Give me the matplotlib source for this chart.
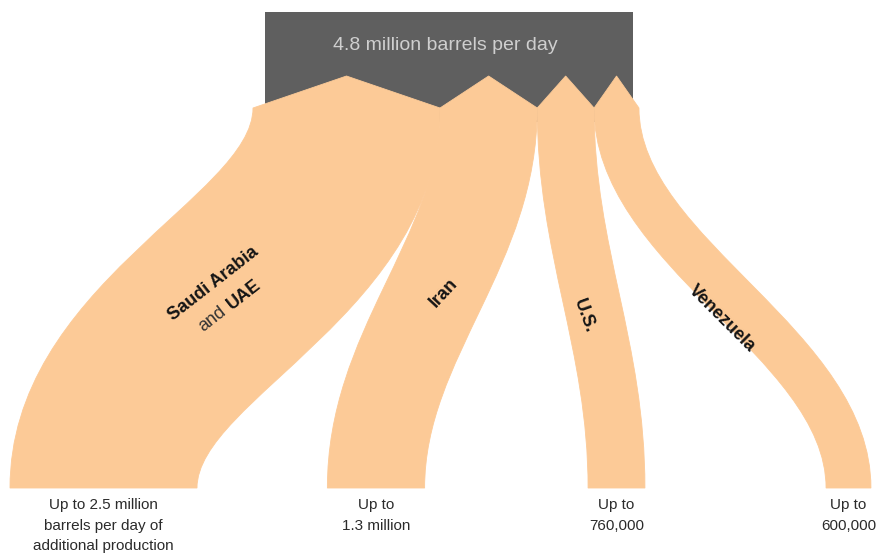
import numpy as np
import matplotlib.pyplot as plt
from matplotlib.path import Path
from matplotlib.patches import PathPatch, Rectangle

# spare capacity, million barrels per day
regions = ['Saudi Arabia', 'Iran', 'U.S.', 'Venezuela']
capacity = [2.5, 1.3, 0.76, 0.6]
total_label = '4.8 million barrels per day'
bottom_labels = [
    'Up to 2.5 million\nbarrels per day of\nadditional production',
    'Up to\n1.3 million',
    'Up to\n760,000',
    'Up to\n600,000',
]

PEACH = '#fcca97'
GREY = '#5f5f5f'

# layout (pixels, y pointing down)
PX_PER_MB = 74.8
TOP_LEFT = 253
bottom_centers = [103.5, 376, 616.5, 848.5]
Y_PEAK, Y_TOP, Y_BOT = 76, 108, 488
H = Y_BOT - Y_TOP
C = 0.38

fig = plt.figure(figsize=(8.77, 5.56), dpi=100)
ax = fig.add_axes([0, 0, 1, 1])
ax.set_xlim(0, 877)
ax.set_ylim(556, 0)
ax.axis('off')

# grey header block
ax.add_patch(Rectangle((265, 12), 368, 110, facecolor=GREY, edgecolor='none', zorder=1))
ax.text(445, 45, total_label, ha='center', va='center', fontsize=14,
        family='Liberation Sans', color='#cfcfcf', zorder=3)

widths = np.array(capacity) * PX_PER_MB
lefts = TOP_LEFT + np.concatenate([[0], np.cumsum(widths)[:-1]])

for i in range(len(capacity)):
    w = widths[i]
    L0, R0 = lefts[i], lefts[i] + w
    C0 = (L0 + R0) / 2
    L1, R1 = bottom_centers[i] - w / 2, bottom_centers[i] + w / 2
    dx = bottom_centers[i] - C0
    d = 0.0008 * w * min(1, abs(dx) / 240) * np.sign(dx)
    # the edge on the side the band bends towards swings a little earlier
    al, bl = C + d, C - d
    ar, br = C - d, C + d
    verts = [(L0, Y_TOP), (C0, Y_PEAK), (R0, Y_TOP),
             (R0, Y_TOP + ar * H), (R1, Y_BOT - br * H), (R1, Y_BOT),
             (L1, Y_BOT),
             (L1, Y_BOT - bl * H), (L0, Y_TOP + al * H), (L0, Y_TOP),
             (L0, Y_TOP)]
    codes = [Path.MOVETO, Path.LINETO, Path.LINETO,
             Path.CURVE4, Path.CURVE4, Path.CURVE4,
             Path.LINETO,
             Path.CURVE4, Path.CURVE4, Path.CURVE4,
             Path.CLOSEPOLY]
    ax.add_patch(PathPatch(Path(verts, codes), facecolor=PEACH, edgecolor=PEACH,
                           lw=0.6, zorder=2))
    ax.text(bottom_centers[i], 498, bottom_labels[i], ha='center', va='top',
            fontsize=11, family='Liberation Sans', color='#2b2b2b', linespacing=1.6)

# band names
bold = dict(family='Liberation Sans', fontweight='bold', color='#151515',
            fontsize=13, ha='center', va='center', rotation_mode='anchor', zorder=3)
ang = 38
u = np.array([np.cos(np.radians(ang)), -np.sin(np.radians(ang))])
ax.text(213.5, 283.5, 'Saudi Arabia', rotation=ang, **bold)
c2 = np.array([230, 306])
p_and = c2 - u * 22
p_uae = c2 + u * 18
ax.text(p_and[0], p_and[1], 'and', rotation=ang, family='Liberation Sans', color='#333333',
        fontsize=13, ha='center', va='center', rotation_mode='anchor', zorder=3)
ax.text(p_uae[0], p_uae[1], 'UAE', rotation=ang, **bold)
ax.text(444, 293, 'Iran', rotation=47, **bold)
ax.text(584, 316, 'U.S.', rotation=-70, **bold)
ax.text(722, 319, 'Venezuela', rotation=-45, **bold)

fig.savefig('out.png', dpi=100)
